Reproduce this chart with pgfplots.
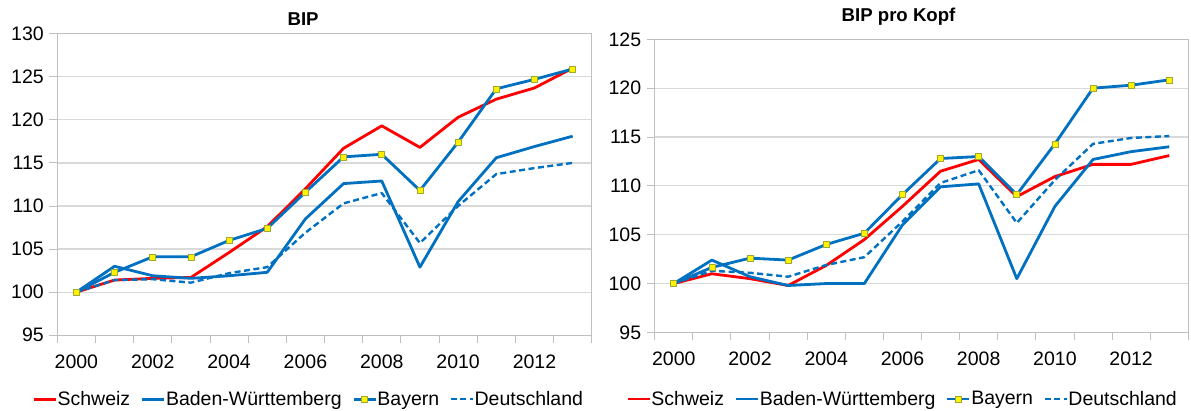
\documentclass[border=0pt]{standalone}
\usepackage{pgfplots}
\usepackage{pgfplotstable}
\pgfplotsset{compat=1.18}
\usepackage{fontspec}
\setmainfont{Liberation Sans}
\definecolor{chred}{HTML}{FF0000}
\definecolor{chblue}{HTML}{0070C0}
\definecolor{mkedge}{HTML}{A0A830}
\definecolor{gridc}{HTML}{D9D9D9}
\definecolor{axc}{HTML}{BFBFBF}

\pgfplotstableread{
x ch bw by de
0 100 100 100 100
1 101.4 103.0 102.3 101.4
2 101.6 101.9 104.1 101.5
3 101.7 101.6 104.1 101.1
4 104.6 101.9 106.0 102.2
5 107.6 102.3 107.4 102.9
6 112.0 108.5 111.6 106.9
7 116.7 112.6 115.7 110.3
8 119.3 112.9 116.0 111.5
9 116.8 102.9 111.8 105.7
10 120.3 110.5 117.4 110.0
11 122.4 115.6 123.6 113.7
12 123.7 116.9 124.7 114.4
13 126.0 118.1 125.9 115.0
}\bipdata

\pgfplotstableread{
x ch bw by de
0 100 100 100 100
1 101.0 102.4 101.65 101.3
2 100.5 100.7 102.6 101.1
3 99.8 99.8 102.4 100.7
4 101.85 100.0 104.0 101.9
5 104.5 100.0 105.15 102.7
6 107.9 106.0 109.1 106.35
7 111.5 109.9 112.8 110.3
8 112.7 110.2 113.0 111.6
9 108.9 100.5 109.1 106.2
10 110.95 107.9 114.3 110.6
11 112.2 112.7 120.0 114.3
12 112.2 113.5 120.3 114.9
13 113.1 114.0 120.85 115.1
}\kopfdata

\pgfplotsset{
  panel/.style={
    scale only axis,
    anchor=south west,
    xmin=-0.5, xmax=13.5,
    xtick={-0.5,0.5,...,13.5},
    xticklabels={2000,,2002,,2004,,2006,,2008,,2010,,2012,,},
    tick align=outside,
    tick pos=left,
    major tick length=8pt,
    tick style={axc, line width=0.9pt},
    axis line style={axc, line width=1pt},
    ymajorgrids,
    grid style={gridc, line width=1.2pt},
    tick label style={font=\fontsize{19.5}{22}\selectfont, text=black},
    /pgf/number format/assume math mode=true,
    yticklabel style={xshift=-2pt},
    xticklabel style={yshift=-8pt},
    legend columns=4,
    legend cell align=left,
    legend style={draw=none, fill=none, font=\fontsize{19.5}{22}\selectfont,
      anchor=center, inner sep=0pt,
      nodes={inner xsep=0.5pt, inner ysep=1pt},
      /tikz/every even column/.append style={column sep=10pt}},
    legend image code/.code={\draw[mark repeat=2,mark phase=2,#1] plot coordinates {(0pt,0pt) (11pt,0pt) (22pt,0pt)};},
    title style={font=\bfseries\fontsize{18.6}{20}\selectfont, anchor=base},
  },
  sch/.style={chred, line width=2.8pt, line join=round},
  bwst/.style={chblue, line width=2.8pt, line join=round},
  byst/.style={chblue, line width=2.8pt, line join=round, mark=square*, mark size=3pt,
    mark options={solid, fill=yellow, draw=mkedge, line width=0.6pt}},
  dest/.style={chblue, line width=2.4pt, dash pattern=on 6pt off 3.5pt, line join=round},
}

\begin{document}
\begin{tikzpicture}
\useasboundingbox (0,0) rectangle (1191pt,411pt);

\begin{axis}[panel,
  at={(57.3pt,75.8pt)}, width=534.4pt, height=301.5pt,
  xticklabel style={xshift=19.09pt},
  ymin=95, ymax=130, ytick={95,100,...,130},
  title={BIP}, title style={at={(0.46,1)}, yshift=1.8pt},
  legend style={at={(0.469,-0.212)}},
]
\addplot[sch] table[x=x,y=ch]{\bipdata};
\addplot[bwst] table[x=x,y=bw]{\bipdata};
\addplot[byst] table[x=x,y=by]{\bipdata};
\addplot[dest] table[x=x,y=de]{\bipdata};
\legend{Schweiz,Baden-Württemberg,Bayern,Deutschland}
\end{axis}

\begin{axis}[panel,
  at={(654.7pt,78.6pt)}, width=533.6pt, height=293.1pt,
  xticklabel style={xshift=19.06pt},
  ymin=95, ymax=125, ytick={95,100,...,125},
  title={BIP pro Kopf}, title style={at={(0.457,1)}, yshift=12pt},
  legend style={at={(0.463,-0.227)}},
]
\addplot[sch] table[x=x,y=ch]{\kopfdata};
\addplot[bwst] table[x=x,y=bw]{\kopfdata};
\addplot[byst] table[x=x,y=by]{\kopfdata};
\addplot[dest] table[x=x,y=de]{\kopfdata};
\legend{Schweiz,Baden-Württemberg,Bayern,Deutschland}
\end{axis}
\end{tikzpicture}
\end{document}
